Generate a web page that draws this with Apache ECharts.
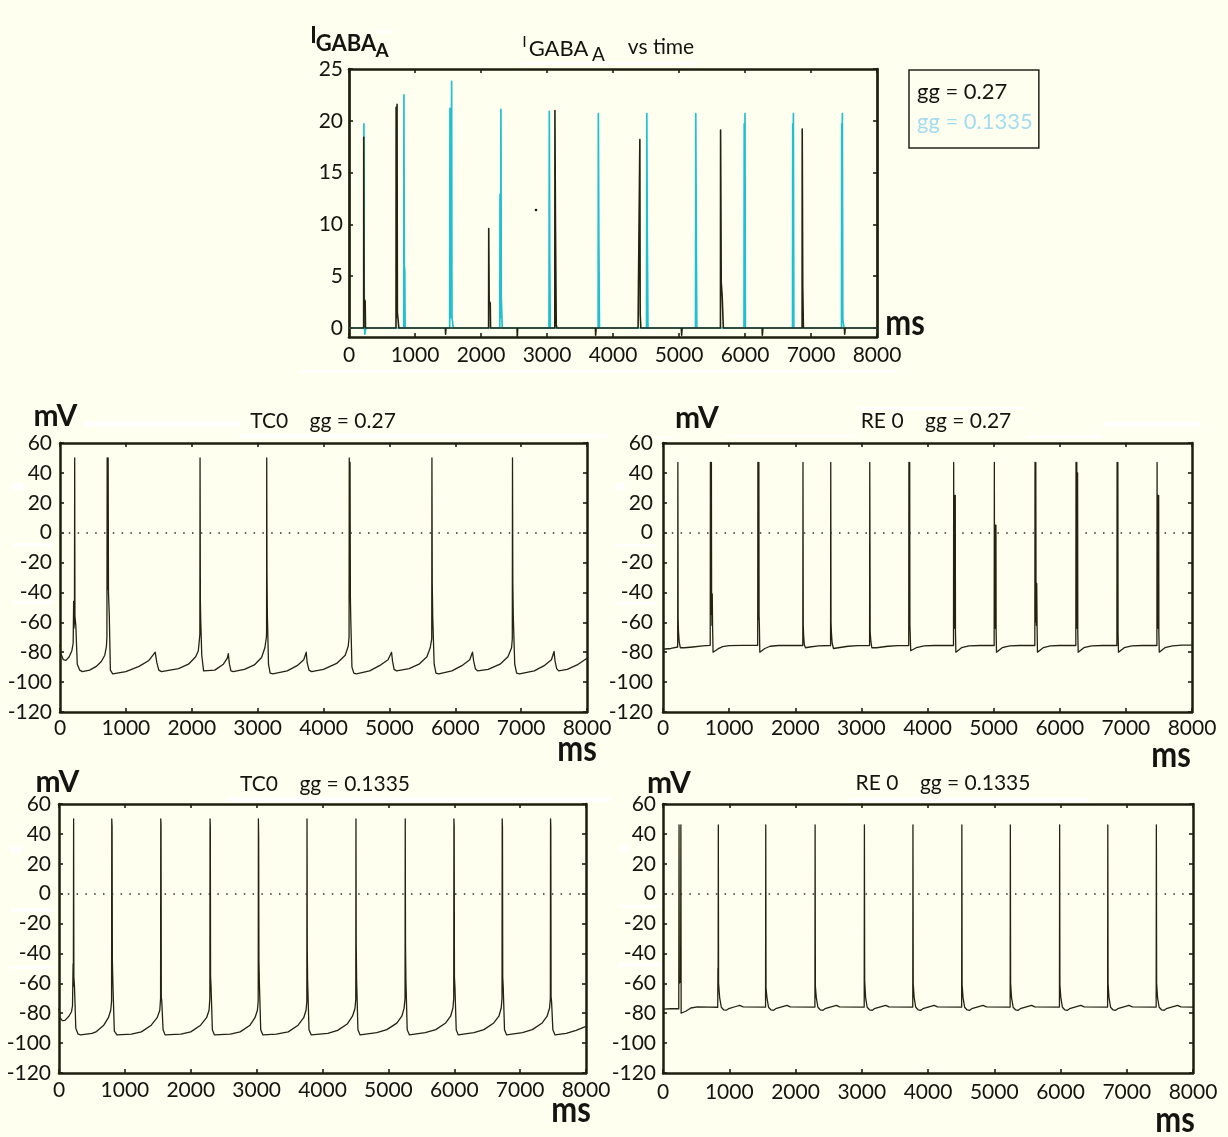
<!DOCTYPE html>
<html>
<head>
<meta charset="utf-8">
<script src="https://cdn.jsdelivr.net/npm/echarts@6/dist/echarts.min.js"></script>
<style>
  html, body { margin: 0; padding: 0; background: #fffff0; }
  #chart { width: 1228px; height: 1137px; }
</style>
</head>
<body>
<div id="chart"></div>
<script>
// ---- axis ticks ----
const timeTicks = [0, 1000, 2000, 3000, 4000, 5000, 6000, 7000, 8000];          // ms
const currentTicks = [0, 5, 10, 15, 20, 25];                                      // I_GABA_A
const voltageTicks = [-120, -100, -80, -60, -40, -20, 0, 20, 40, 60];             // mV
const currentFloor = -0.87;                                                       // bottom of the current axis

// ---- I_GABA_A vs time, [ms, value] ----
const gabaHigh = [ // gg = 0.27
  [0,0],[222,0],[223,18.4],[228,2.8],[245,2.6],[250,0],
  [712,0],[714,21.3],[720,1],[728,21.6],[733,1.5],[752,1.5],[755,0],
  [1460,0],[1463,-0.6],[1470,0],
  [2115,0],[2117,9.6],[2124,2.6],[2140,2.4],[2145,0],
  [2546,0],[2550,-0.9],[2556,0],
  [3118,0],[3120,21],[3128,10.3],[3140,0.3],[3150,0],
  [3733,0],[3737,-0.7],[3745,0],
  [4380,0],[4382,1.6],[4405,1.6],[4407,18.2],[4412,1.4],[4422,0],
  [5035,0],[5040,-0.7],[5048,0],
  [5628,0],[5630,19.1],[5640,4.4],[5655,3],[5668,3],[5672,0],
  [6259,0],[6263,-0.7],[6271,0],
  [6865,0],[6867,19.2],[6875,4],[6885,0],
  [7506,0],[7510,-0.6],[7518,0],
  [8000,0]
];
const gabaLow = [ // gg = 0.1335
  [0,0],[225,0],[226,19.7],[232,0.5],[240,-0.6],[255,0],
  [830,0],[832,22.5],[838,5.9],[845,5.6],[850,0],
  [1525,0],[1530,21.2],[1540,1],[1555,23.8],[1560,1],[1575,1],[1580,0],
  [2285,0],[2288,12.9],[2295,1],[2302,21.1],[2307,3.1],[2318,3.1],[2322,0],
  [3030,0],[3035,20.9],[3042,6.4],[3050,0],
  [3775,0],[3778,20.7],[3786,7.9],[3795,0],
  [4508,0],[4512,20.7],[4520,8.8],[4530,0],
  [5250,0],[5254,20.7],[5262,9],[5270,0],
  [5985,0],[5988,19.7],[5995,1],[6000,20.7],[6006,0],
  [6720,0],[6723,19.7],[6728,1],[6733,20.7],[6740,0],
  [7462,0],[7465,19.7],[7470,1],[7475,20.7],[7482,0.8],[7495,0.8],[7500,0],
  [8000,0]
];

// ---- membrane potential, [ms, mV] ----
const tcHigh = [ // TC0, gg = 0.27
  [0,-75],[15,-81],[50,-85],[90,-85.5],[140,-83],[180,-79],[200,-74],[207,-46],[211,-64],[219,-60],[223,50],[227,-56],[240,-62],[262,-88],[300,-92],[340,-93],
  [450,-92],[550,-89.5],[630,-86],[680,-82],[705,-76],[712,-70],[716,50],[722,-38],[731,50],[736,-40],[748,-55],[765,-92],[800,-94.5],
  [1000,-93],[1200,-89.5],[1350,-85.5],[1420,-81.5],[1445,-80],[1470,-87],[1500,-92],[1540,-93],
  [1800,-91],[1950,-88],[2060,-83],[2100,-79],[2115,-72],[2123,-68],[2126,50],[2131,-46],[2136,-58],[2152,-82],[2180,-92.5],[2210,-93.5],
  [2350,-92],[2480,-88],[2540,-84],[2555,-81],[2572,-88],[2595,-92.5],[2630,-93],
  [2800,-91.5],[2950,-88.5],[3060,-83.5],[3110,-77],[3133,-70],[3136,-66],[3138,50],[3142,-26],[3148,-55],[3165,-88],[3190,-94],[3230,-94.5],
  [3450,-92.5],[3600,-89],[3700,-85],[3738,-80],[3752,-87],[3780,-92],[3820,-93],
  [4000,-91.5],[4200,-87.5],[4330,-82],[4375,-76],[4388,-70],[4391,50],[4396,-20],[4403,47],[4408,-43],[4414,-58],[4432,-90],[4460,-94],[4500,-94.5],
  [4700,-92.5],[4850,-89],[4980,-85],[5033,-80],[5048,-86],[5072,-91.5],[5110,-92.5],
  [5300,-91],[5450,-88],[5570,-83],[5620,-77],[5643,-71],[5646,50],[5651,-34],[5658,-56],[5680,-88],[5707,-94],[5750,-94.5],
  [5950,-92.5],[6100,-89],[6220,-85],[6262,-80],[6280,-86],[6305,-91],[6340,-92.5],
  [6500,-91.5],[6680,-88],[6800,-83],[6855,-77],[6866,-71],[6869,50],[6874,-34],[6881,-56],[6903,-88],[6932,-94],[6975,-94.5],
  [7200,-92.5],[7350,-89],[7460,-85],[7500,-79.5],[7515,-86],[7540,-91],[7570,-92.5],
  [7700,-91.5],[7850,-88.5],[8000,-84]
];
const reHigh = [ // RE 0, gg = 0.27
  [0,-78],[120,-77.5],[222,-76.5],
  [225,47],[229,-58],[234,-66],[245,-73],[262,-77],[320,-77],[450,-76.5],[600,-75.8],[714,-75.4],
  [717,47],[720,-55],[732,47],[735,-40],[740,-62],[745,-41],[750,-63],[757,-80],[780,-79.5],[830,-77.8],[900,-76.3],[1000,-75.6],[1200,-75.4],[1432,-75.4],
  [1435,47],[1438,-58],[1450,47],[1453,-55],[1458,-63],[1464,-80],[1490,-79],[1540,-77.5],[1620,-76],[1750,-75.5],[2114,-75.5],
  [2117,47],[2121,-62],[2127,-69],[2137,-75],[2155,-77],[2220,-76.5],[2350,-75.8],[2534,-75.5],
  [2537,47],[2541,-60],[2547,-67],[2558,-74],[2578,-77.5],[2650,-77],[2800,-76],[2950,-75.6],[3124,-75.5],
  [3127,47],[3130,-6],[3133,-66],[3142,-72],[3158,-77],[3230,-77],[3400,-76],[3550,-75.6],[3716,-75.5],
  [3719,47],[3722,-60],[3731,47],[3734,-62],[3740,-70],[3746,-79],[3770,-78.5],[3830,-77],[3950,-75.8],[4100,-75.5],[4393,-75.5],
  [4396,47],[4399,-62],[4408,25],[4411,-64],[4420,25],[4423,-67],[4429,-80],[4455,-79],[4515,-77],[4630,-75.8],[4800,-75.5],[5008,-75.5],
  [5011,47],[5014,-62],[5023,5],[5026,-64],[5035,5],[5038,-67],[5044,-80],[5070,-79],[5130,-77],[5245,-75.8],[5400,-75.5],[5623,-75.5],
  [5626,47],[5629,-60],[5638,47],[5641,-34],[5647,-62],[5652,-34],[5657,-62],[5663,-80],[5690,-79],[5750,-77],[5860,-75.8],[6000,-75.5],[6243,-75.5],
  [6246,47],[6249,-62],[6258,47],[6261,-64],[6270,40],[6273,-67],[6279,-80],[6305,-79],[6365,-77],[6480,-75.8],[6650,-75.5],[6864,-75.5],
  [6867,47],[6870,-62],[6879,47],[6882,-67],[6888,-80],[6915,-79],[6975,-77],[7090,-75.8],[7250,-75.5],[7469,-75.5],
  [7472,47],[7475,-62],[7484,25],[7487,-64],[7496,25],[7499,-67],[7505,-80],[7530,-79],[7590,-77],[7705,-75.8],[7850,-75.3],[8000,-75.2]
];
const tcLow = [ // TC0, gg = 0.1335
  [0,-76.5],[15,-83],[50,-85],[90,-84.8],[150,-82],[190,-79],[205,-75],[214,-47],[218,-62],[222,50],[226,-56],[235,-62],[255,-90],[290,-94],[330,-94.5],
  [500,-93.5],[560,-92.5],[680,-88],[750,-83],[785,-78],[798,-72],[801,50],[806,45],[810,-44],[818,-60],[840,-92],[880,-94.5],
  [1100,-94],[1250,-92.5],[1400,-88],[1490,-83],[1530,-78],[1542,-70],[1545,50],[1549,46],[1553,-69],[1560,-72],[1580,-91],[1610,-94.5],
  [1850,-94],[2000,-92.5],[2150,-88],[2240,-83],[2278,-78],[2290,-70],[2293,50],[2297,45],[2301,-55.5],[2308,-62],[2328,-91],[2360,-94.5],
  [2600,-94],[2750,-92.5],[2900,-88],[2975,-83],[3012,-78],[3024,-72],[3027,50],[3031,37],[3035,-44.6],[3042,-60],[3062,-91],[3095,-94.5],
  [3300,-94],[3480,-92.5],[3630,-88],[3715,-83],[3750,-78],[3762,-72],[3765,50],[3769,-37.5],[3774,-58],[3795,-91],[3830,-94.5],
  [4080,-93.5],[4230,-91.5],[4380,-87],[4455,-82],[4492,-77],[4505,-71],[4508,50],[4512,-34],[4518,-58],[4538,-91],[4571,-94.5],
  [4825,-93],[4977,-91],[5128,-86.6],[5204,-82],[5239,-76.6],[5253,-70],[5256,50],[5260,-34],[5266,-58],[5286,-91],[5320,-94.5],
  [5560,-93],[5720,-91],[5870,-86.5],[5945,-82],[5980,-76.5],[5992,-70],[5995,50],[5999,45],[6003,-56],[6010,-62],[6030,-91],[6060,-94.5],
  [6300,-93],[6450,-91],[6600,-86.5],[6678,-82],[6713,-76.5],[6725,-70],[6728,50],[6732,45],[6736,-56],[6743,-62],[6763,-91],[6795,-94.5],
  [7035,-93],[7185,-91],[7335,-86.5],[7410,-82],[7447,-76.5],[7459,-70],[7462,50],[7466,45],[7470,-69],[7477,-72],[7497,-91],[7530,-94.5],
  [7700,-93.5],[7850,-91.5],[8000,-88.8]
];
const reLow = [ // RE 0, gg = 0.1335
  [0,-77.2],[120,-77],[238,-77],[242,46],[246,-60],[266,-58],[270,46],[274,-80],[300,-80.5],[350,-78.5],[420,-76.5],[520,-75.8],[700,-75.9],
  [826,-76],[829,-50],[832,-62],[835,46],[839,-60],[855,-69.5],[880,-76],[915,-77.7],[955,-78],[990,-77],[1100,-75.5],[1155,-74.8],[1210,-75.8],[1548,-75.9],
  [1551,46],[1555,-63],[1569,-69.5],[1593,-76],[1628,-77.7],[1670,-78],[1701,-77],[1819,-75.5],[1871,-74.8],[1921,-75.8],[2293,-75.9],
  [2296,46],[2300,-62],[2314,-69.5],[2338,-76],[2373,-77.7],[2415,-78],[2446,-77],[2564,-75.5],[2616,-74.8],[2666,-75.8],[3037,-75.9],
  [3040,46],[3044,-58],[3058,-69.5],[3082,-76],[3117,-77.7],[3159,-78],[3190,-77],[3308,-75.5],[3360,-74.8],[3410,-75.8],[3770,-75.9],
  [3773,46],[3777,-60],[3791,-69.5],[3815,-76],[3850,-77.7],[3892,-78],[3923,-77],[4041,-75.5],[4093,-74.8],[4143,-75.8],[4508,-75.9],
  [4511,46],[4515,-61],[4529,-69.5],[4553,-76],[4588,-77.7],[4630,-78],[4661,-77],[4779,-75.5],[4831,-74.8],[4881,-75.8],[5240,-75.9],
  [5243,46],[5247,-60],[5261,-69.5],[5285,-76],[5320,-77.7],[5362,-78],[5393,-77],[5511,-75.5],[5563,-74.8],[5613,-75.8],[5984,-75.9],
  [5987,46],[5991,-61],[6005,-69.5],[6029,-76],[6064,-77.7],[6106,-78],[6137,-77],[6255,-75.5],[6307,-74.8],[6357,-75.8],[6711,-75.9],
  [6714,46],[6718,-60],[6732,-69.5],[6756,-76],[6791,-77.7],[6833,-78],[6864,-77],[6982,-75.5],[7034,-74.8],[7084,-75.8],[7444,-75.9],
  [7447,46],[7451,-60],[7465,-69.5],[7489,-76],[7524,-77.7],[7566,-78],[7597,-77],[7715,-75.5],[7767,-74.8],[7817,-75.8],[8000,-75.9]
];

// ---- drawing ----
const FONT = 'Lato';
const INK = '#141410';
const FRAME = '#1e1e0c';
const TRACE = '#23230f';
const CYAN = '#1fc0cf';

// plotting boxes: current panel on top, then TC / RE rows
const boxes = [
  { left: 349, top: 69,  width: 528, height: 268, frame: 2.7, yMargin: 6,  xMargin: 8 },
  { left: 60,  top: 443, width: 527, height: 269, frame: 2.5, yMargin: 8,  xMargin: 6 },
  { left: 663, top: 443, width: 529, height: 269, frame: 2.5, yMargin: 10, xMargin: 6 },
  { left: 59,  top: 804, width: 527, height: 269, frame: 2.5, yMargin: 8,  xMargin: 7 },
  { left: 663, top: 804, width: 530, height: 269, frame: 2.5, yMargin: 7,  xMargin: 9 }
];

const labelStyle = { fontFamily: FONT, fontSize: 21, color: INK, formatter: v => String(v) };
const tStep = timeTicks[1] - timeTicks[0];
const vStep = voltageTicks[1] - voltageTicks[0];

const grids = [], xAxes = [], yAxes = [];
boxes.forEach((b, i) => {
  grids.push({ left: b.left, top: b.top, width: b.width, height: b.height });
  const line = { show: true, onZero: false, lineStyle: { color: FRAME, width: b.frame } };
  const tick = { show: true, inside: true, length: 4, lineStyle: { color: FRAME, width: 1.6 } };
  const xBase = {
    type: 'value', gridIndex: i, min: timeTicks[0], max: timeTicks[timeTicks.length - 1], interval: tStep,
    axisLine: line, axisTick: tick, splitLine: { show: false }
  };
  xAxes.push(Object.assign({}, xBase, { position: 'bottom', axisLabel: Object.assign({ margin: b.xMargin }, labelStyle) }));
  xAxes.push(Object.assign({}, xBase, { position: 'top', axisLabel: { show: false } }));
  let yBase;
  if (i === 0) {
    yBase = {
      type: 'value', gridIndex: i, min: currentFloor, max: currentTicks[currentTicks.length - 1],
      axisLine: line, splitLine: { show: false },
      axisTick: Object.assign({}, tick, { customValues: currentTicks })
    };
    yAxes.push(Object.assign({}, yBase, { position: 'left',
      axisLabel: Object.assign({ margin: b.yMargin, customValues: currentTicks }, labelStyle) }));
  } else {
    yBase = {
      type: 'value', gridIndex: i, min: voltageTicks[0], max: voltageTicks[voltageTicks.length - 1], interval: vStep,
      axisLine: line, axisTick: tick, splitLine: { show: false }
    };
    yAxes.push(Object.assign({}, yBase, { position: 'left', axisLabel: Object.assign({ margin: b.yMargin }, labelStyle) }));
  }
  yAxes.push(Object.assign({}, yBase, { position: 'right', axisLabel: { show: false } }));
});

const zeroLine = {
  silent: true, symbol: 'none', label: { show: false }, animation: false,
  lineStyle: { color: '#2e2e22', width: 1.6, type: [1.5, 7.3] },
  data: [{ yAxis: 0 }]
};

function trace(name, panel, data, color, width, withZero) {
  const s = {
    name, type: 'line', data, xAxisIndex: panel * 2, yAxisIndex: panel * 2,
    showSymbol: false, symbol: 'none', silent: true,
    lineStyle: { color, width, join: 'round' }, itemStyle: { color }
  };
  if (withZero) s.markLine = zeroLine;
  return s;
}

const series = [
  trace('gg = 0.1335', 0, gabaLow, CYAN, 1.7, false),
  trace('gg = 0.27', 0, gabaHigh, TRACE, 1.6, false),
  trace('TC0 gg = 0.27', 1, tcHigh, TRACE, 1.3, true),
  trace('RE 0 gg = 0.27', 2, reHigh, TRACE, 1.3, true),
  trace('TC0 gg = 0.1335', 3, tcLow, TRACE, 1.3, true),
  trace('RE 0 gg = 0.1335', 4, reLow, TRACE, 1.3, true)
];

const panelTitle = (text, x, y) => ({
  text, left: x, top: y, textAlign: 'center', padding: 0,
  textStyle: { fontFamily: FONT, fontSize: 21, fontWeight: 'normal', color: INK }
});

const txt = (text, x, y, size, bold, extra) => Object.assign({
  type: 'text', x, y, silent: true,
  style: { text, fontFamily: FONT, fontSize: size, fontWeight: bold ? 'bold' : 'normal',
           fill: INK, align: 'center', verticalAlign: 'middle' }
}, extra || {});
const unitMs = (x, y) => txt('ms', x, y, 31, true, { scaleY: 1.15, originX: 0, originY: 0 });

// pale strips left over around the panel headings
const strips = [
  [518, 62, 180, 3], [375, 30, 18, 3], [300, 370, 597, 3],
  [85, 421, 155, 6], [240, 434, 367, 4], [13, 483, 10, 7], [13, 543, 40, 4], [13, 601, 40, 3],
  [658, 437, 17, 2], [725, 435, 132, 2], [856, 407, 170, 3], [1103, 422, 98, 5], [1028, 435, 73, 3],
  [615, 483, 10, 7], [615, 544, 40, 3], [615, 602, 40, 3],
  [227, 797, 383, 5], [10, 847, 12, 6], [10, 908, 43, 4], [10, 966, 43, 3],
  [850, 798, 237, 4], [620, 845, 8, 7], [620, 905, 41, 3], [620, 963, 41, 4]
].map(r => ({ type: 'rect', silent: true, z: -1, shape: { x: r[0], y: r[1], width: r[2], height: r[3] }, style: { fill: '#ffffff' } }));

const graphic = strips.concat([
  // current axis name I_GABA_A
  txt('I', 313.5, 36, 22, true),
  txt('GABA', 346, 44, 22, true),
  txt('A', 382, 50.5, 19, true),
  // current panel heading
  txt('I', 524.5, 41.5, 16, false),
  txt('GABA', 558.5, 48.5, 22, false),
  txt('A', 598.5, 55, 19, false),
  txt('vs time', 661, 47.5, 21, false),
  { type: 'circle', silent: true, shape: { cx: 536, cy: 210, r: 1.3 }, style: { fill: INK } },
  // unit labels
  unitMs(905, 323),
  txt('mV', 55.5, 416, 30, true),
  unitMs(577, 749),
  txt('mV', 697, 418, 30, true),
  unitMs(1171, 755),
  txt('mV', 57.5, 782, 30, true),
  unitMs(571, 1110),
  txt('mV', 669, 783, 30, true),
  unitMs(1175, 1120)
]);

const chart = echarts.init(document.getElementById('chart'));
chart.setOption({
  backgroundColor: '#fffff0',
  animation: false,
  title: [
    panelTitle('TC0    gg = 0.27', 323, 411),
    panelTitle('RE 0    gg = 0.27', 936, 411),
    panelTitle('TC0    gg = 0.1335', 325, 774),
    panelTitle('RE 0    gg = 0.1335', 943, 773)
  ],
  legend: {
    left: 909, top: 70, orient: 'vertical', selectedMode: false,
    itemWidth: 0, itemHeight: 0, itemGap: 6, icon: 'rect',
    padding: [10, 6, 14, 3],
    borderColor: '#23231a', borderWidth: 1.5, backgroundColor: 'transparent',
    textStyle: { fontFamily: FONT, fontSize: 22, lineHeight: 24 },
    data: [
      { name: 'gg = 0.27', textStyle: { color: '#141410' } },
      { name: 'gg = 0.1335', textStyle: { color: '#a3dbef' } }
    ]
  },
  grid: grids,
  xAxis: xAxes,
  yAxis: yAxes,
  series,
  graphic
});
</script>
</body>
</html>
